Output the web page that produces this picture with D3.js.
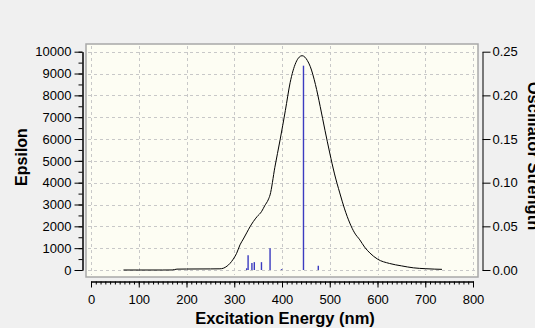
<!DOCTYPE html>
<html lang="en">
<head>
  <meta charset="UTF-8">
  <style>
    body { margin: 0; background: #f0f0f0; }
    svg { display: block; }
    .tick text { font-family: 'Liberation Sans', Arial, sans-serif; font-size: 13px; fill: #000; }
    .title { font-family: 'Liberation Sans', Arial, sans-serif; font-size: 16px; font-weight: bold; fill: #000; }
    .grid line { stroke: #c8c8c8; stroke-dasharray: 3,3; }
  </style>
  <script src="https://d3js.org/d3.v7.min.js"></script>
</head>
<body>
<svg id="chart"></svg>
<script>

// spectrum (nm, epsilon)
const curveNm = [68, 100, 150, 170, 180, 200, 250, 270, 277, 285, 291, 298, 305, 312, 319, 326, 333, 340, 348, 357, 364, 371, 375, 385, 396, 407, 417, 429, 436, 442, 448, 453, 459, 470, 480, 490, 500, 510, 521, 531, 542, 552, 563, 573, 584, 600, 625, 650, 675, 700, 720, 735];
const curveEps = [0, 0, 0, 2, 40, 45, 50, 55, 80, 180, 300, 500, 765, 1150, 1420, 1700, 1980, 2220, 2450, 2670, 2950, 3210, 3440, 4700, 5960, 7300, 8580, 9500, 9750, 9817, 9750, 9600, 9330, 8500, 7490, 6400, 5360, 4400, 3530, 2800, 2150, 1700, 1380, 1050, 780, 500, 300, 190, 100, 60, 40, 30];

// excitations (nm, oscillator strength)
const barNm = [326, 329, 337, 342, 357, 375, 399, 445, 476];
const barF = [0.002, 0.017, 0.008, 0.009, 0.009, 0.025, 0.001, 0.234, 0.005];

const xTicks = [0, 100, 200, 300, 400, 500, 600, 700, 800];
const epsTicks = [0, 1000, 2000, 3000, 4000, 5000, 6000, 7000, 8000, 9000, 10000];
const fTicks = [0, 0.05, 0.10, 0.15, 0.20, 0.25];

const width = 535, height = 328;
const svg = d3.select('#chart').attr('width', width).attr('height', height);

const x = d3.scaleLinear().domain([0, 800]).range([91, 473]);
const yL = d3.scaleLinear().domain([0, 10000]).range([270, 51.7]);
const yR = d3.scaleLinear().domain([0, 0.25]).range([270, 51.7]);

// plot area
svg.append('rect')
  .attr('x', 86).attr('y', 44)
  .attr('width', 392).attr('height', 233)
  .attr('fill', '#fdfdf3')
  .attr('stroke', '#a8a8a8')
  .attr('stroke-width', 1.5);

// grid
const grid = svg.append('g').attr('class', 'grid');
grid.selectAll('.gx').data(xTicks).enter().append('line')
  .attr('x1', d => Math.round(x(d)) + 0.5).attr('x2', d => Math.round(x(d)) + 0.5)
  .attr('y1', 46).attr('y2', 275);
grid.selectAll('.gy').data(epsTicks).enter().append('line')
  .attr('x1', 88).attr('x2', 476)
  .attr('y1', d => Math.round(yL(d)) + 0.5).attr('y2', d => Math.round(yL(d)) + 0.5);

// bars
svg.selectAll('.bar').data(barNm).enter().append('line')
  .attr('class', 'bar')
  .attr('x1', d => x(d)).attr('x2', d => x(d))
  .attr('y1', yR(0))
  .attr('y2', (d, i) => yR(barF[i]))
  .attr('stroke', '#3b3bc0')
  .attr('stroke-width', 1.4);

// curve
const line = d3.line()
  .x((d, i) => x(curveNm[i]))
  .y(d => yL(d))
  .curve(d3.curveMonotoneX);
svg.append('path')
  .datum(curveEps)
  .attr('d', line)
  .attr('fill', 'none')
  .attr('stroke', '#000')
  .attr('stroke-width', 1);

function styleAxis(g) {
  g.selectAll('text').attr('font-size', null).attr('font-family', null);
  g.attr('font-size', null).attr('font-family', null);
  g.select('.domain').attr('stroke', '#000');
  g.selectAll('line').attr('stroke', '#000');
}

// left axis
svg.append('g')
  .attr('transform', 'translate(82.5,0)')
  .call(d3.axisLeft(yL).tickValues(d3.range(0, 10001, 500)).tickSize(4).tickSizeOuter(0).tickFormat(''))
  .call(styleAxis);
svg.append('g')
  .attr('transform', 'translate(82.5,0)')
  .call(d3.axisLeft(yL).tickValues(epsTicks).tickSize(8).tickSizeOuter(0).tickPadding(3).tickFormat(d3.format('d')))
  .call(styleAxis);

// right axis
svg.append('g')
  .attr('transform', 'translate(482.5,0)')
  .call(d3.axisRight(yR).tickValues(fTicks).tickSize(8).tickSizeOuter(0).tickPadding(2).tickFormat(d3.format('.2f')))
  .call(styleAxis);

// bottom axis
svg.append('g')
  .attr('transform', 'translate(0,281.5)')
  .call(d3.axisBottom(x).tickValues(d3.range(0, 801, 10)).tickSize(3).tickSizeOuter(0).tickFormat(''))
  .call(styleAxis);
svg.append('g')
  .attr('transform', 'translate(0,281.5)')
  .call(d3.axisBottom(x).tickValues(xTicks).tickSize(6).tickSizeOuter(0).tickPadding(7))
  .call(styleAxis);

// titles
svg.append('text').attr('class', 'title')
  .attr('text-anchor', 'middle')
  .attr('transform', 'translate(27,157) rotate(-90)')
  .text('Epsilon');
svg.append('text').attr('class', 'title')
  .attr('text-anchor', 'middle')
  .style('font-size', '16.5px')
  .attr('transform', 'translate(527.5,156) rotate(90)')
  .text('Oscillator Strength');
svg.append('text').attr('class', 'title')
  .attr('text-anchor', 'middle')
  .style('font-size', '16.5px')
  .attr('x', 285).attr('y', 324)
  .text('Excitation Energy (nm)');

</script>
</body>
</html>
